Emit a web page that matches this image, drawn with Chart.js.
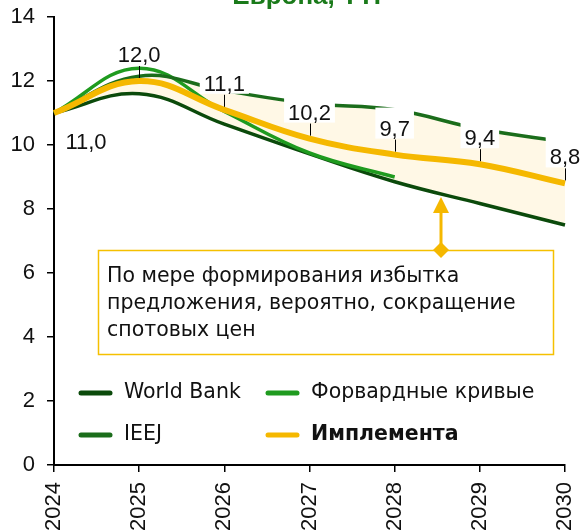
<!DOCTYPE html>
<html><head><meta charset="utf-8">
<script src="https://cdn.jsdelivr.net/npm/chart.js@4.4.1/dist/chart.umd.min.js"></script>
<style>html,body{margin:0;padding:0;background:#fff;overflow:hidden}#wrap{width:582px;height:532px;position:relative}</style>
</head><body><div id="wrap"><canvas id="c" width="582" height="532"></canvas></div>
<script>
const years = ['2024','2025','2026','2027','2028','2029','2030'];
const worldBank = [11.0, 11.6, 10.65, 9.72, 8.85, 8.17, 7.5];
const forwardCurves = [11.0, 12.4, 11.05, 9.75, 9.0, null, null];
const ieej = [11.0, 12.15, 11.7, 11.3, 11.1, 10.5, 10.1];
const implementa = [11.0, 12.0, 11.1, 10.2, 9.7, 9.4, 8.8];
const yTicks = [0, 2, 4, 6, 8, 10, 12, 14];
const seriesNames = ['World Bank', 'Форвардные кривые', 'IEEJ', 'Имплемента'];
const titleText = 'Европа, TTF';
const noteLines = ['По мере формирования избытка', 'предложения, вероятно, сокращение', 'спотовых цен'];

const NUMFONT = '"Liberation Sans", Arial, sans-serif';
const TXTFONT = '"DejaVu Sans", sans-serif';
const C_WB = '#0b4a0b', C_FWD = '#1f9b1f', C_IEEJ = '#1b6d1b', C_IMP = '#f5b800', C_FILL = '#fff8e6';

const fmt = v => v.toFixed(1).replace('.', ',');

const overlay = {
  id: 'overlay',
  afterDatasetsDraw(chart) {
    const ctx = chart.ctx;
    const meta = chart.getDatasetMeta(0);
    ctx.save();
    ctx.font = '22px ' + NUMFONT;
    ctx.textAlign = 'center';
    ctx.textBaseline = 'middle';
    meta.data.forEach((pt, i) => {
      const txt = fmt(implementa[i]);
      if (i === 0) {
        ctx.fillStyle = '#111';
        ctx.fillText(txt, pt.x + 32, pt.y + 30);
        return;
      }
      const cy = pt.y - 26;
      const w = ctx.measureText(txt).width + 8;
      if (i > 1) {
        ctx.fillStyle = '#fff';
        ctx.fillRect(pt.x - w / 2, cy - 21, w, 31);
      }
      ctx.strokeStyle = '#000';
      ctx.lineWidth = 1;
      ctx.beginPath();
      ctx.moveTo(Math.round(pt.x) + 0.5, cy + 11);
      ctx.lineTo(Math.round(pt.x) + 0.5, pt.y - 3);
      ctx.stroke();
      ctx.fillStyle = '#111';
      ctx.fillText(txt, pt.x, cy + 1);
    });
    ctx.restore();
  },
  afterDraw(chart) {
    const ctx = chart.ctx;
    ctx.save();
    // title (cut by top edge)
    ctx.font = 'bold 26px ' + NUMFONT;
    ctx.fillStyle = '#1a7a1a';
    ctx.textAlign = 'center';
    ctx.textBaseline = 'alphabetic';
    ctx.fillText(titleText, 311, 4);

    // annotation box
    ctx.strokeStyle = '#f5c000';
    ctx.lineWidth = 1.5;
    ctx.strokeRect(98.5, 250.5, 455, 104);
    ctx.font = '20.5px ' + TXTFONT;
    ctx.fillStyle = '#111';
    ctx.textAlign = 'left';
    ctx.textBaseline = 'middle';
    const ly = [277, 304, 331];
    noteLines.forEach((t, i) => ctx.fillText(t, 107, ly[i]));
    // arrow
    ctx.strokeStyle = C_IMP;
    ctx.fillStyle = C_IMP;
    ctx.lineWidth = 3;
    ctx.beginPath(); ctx.moveTo(441, 250); ctx.lineTo(441, 212); ctx.stroke();
    ctx.beginPath(); ctx.moveTo(441, 197); ctx.lineTo(449, 213); ctx.lineTo(433, 213); ctx.closePath(); ctx.fill();
    ctx.beginPath(); ctx.moveTo(441, 242); ctx.lineTo(449, 250); ctx.lineTo(441, 258); ctx.lineTo(433, 250); ctx.closePath(); ctx.fill();

    // legend
    const items = [
      {name: seriesNames[0], c: C_WB, x: 79, y: 393, b: false},
      {name: seriesNames[1], c: C_FWD, x: 266, y: 393, b: false},
      {name: seriesNames[2], c: C_IEEJ, x: 79, y: 435, b: false},
      {name: seriesNames[3], c: C_IMP, x: 266, y: 435, b: true}
    ];
    items.forEach(it => {
      ctx.strokeStyle = it.c;
      ctx.lineWidth = 5;
      ctx.lineCap = 'round';
      ctx.beginPath(); ctx.moveTo(it.x + 2, it.y); ctx.lineTo(it.x + 31, it.y); ctx.stroke();
      ctx.font = (it.b ? 'bold ' : '') + '20.5px ' + TXTFONT;
      ctx.fillStyle = '#111';
      ctx.textBaseline = 'middle';
      ctx.fillText(it.name, it.x + 45, it.y);
    });
    ctx.restore();
  }
};

const axisCommon = {
  grid: { display: true, drawOnChartArea: false, drawTicks: true, tickLength: 7, color: '#000', lineWidth: 1.5 },
  border: { display: true, color: '#000', width: 2 }
};

new Chart(document.getElementById('c'), {
  type: 'line',
  data: {
    labels: years,
    datasets: [
      { label: seriesNames[3], data: implementa, borderColor: C_IMP, borderWidth: 6, tension: 0.4, pointRadius: 0, fill: false },
      { label: seriesNames[2], data: ieej, borderColor: C_IEEJ, borderWidth: 3.5, tension: 0.4, pointRadius: 0, fill: 3, backgroundColor: C_FILL },
      { label: seriesNames[1], data: forwardCurves, borderColor: C_FWD, borderWidth: 3.5, tension: 0.4, pointRadius: 0, fill: false },
      { label: seriesNames[0], data: worldBank, borderColor: C_WB, borderWidth: 3.5, tension: 0.4, pointRadius: 0, fill: false }
    ]
  },
  options: {
    responsive: false,
    animation: false,
    devicePixelRatio: 1,
    layout: { padding: { top: 17, right: 17, left: 0, bottom: 0 } },
    plugins: {
      legend: { display: false },
      tooltip: { enabled: false },
      title: { display: false },
      filler: { drawTime: 'beforeDatasetsDraw' }
    },
    scales: {
      x: Object.assign({}, axisCommon, {
        type: 'category',
        offset: false,
        ticks: { maxRotation: 90, minRotation: 90, color: '#111', font: { size: 22, family: NUMFONT }, padding: 10 },
        afterFit(s) { s.height = 67; s.paddingLeft = 0; s.paddingRight = 0; }
      }),
      y: Object.assign({}, axisCommon, {
        min: 0, max: 14,
        afterBuildTicks(s) { s.ticks = yTicks.map(v => ({ value: v })); },
        ticks: { color: '#111', font: { size: 22, family: NUMFONT }, padding: 12 },
        afterFit(s) { s.width = 54; s.paddingTop = 0; s.paddingBottom = 0; }
      })
    }
  },
  plugins: [overlay]
});
</script>
</body></html>
